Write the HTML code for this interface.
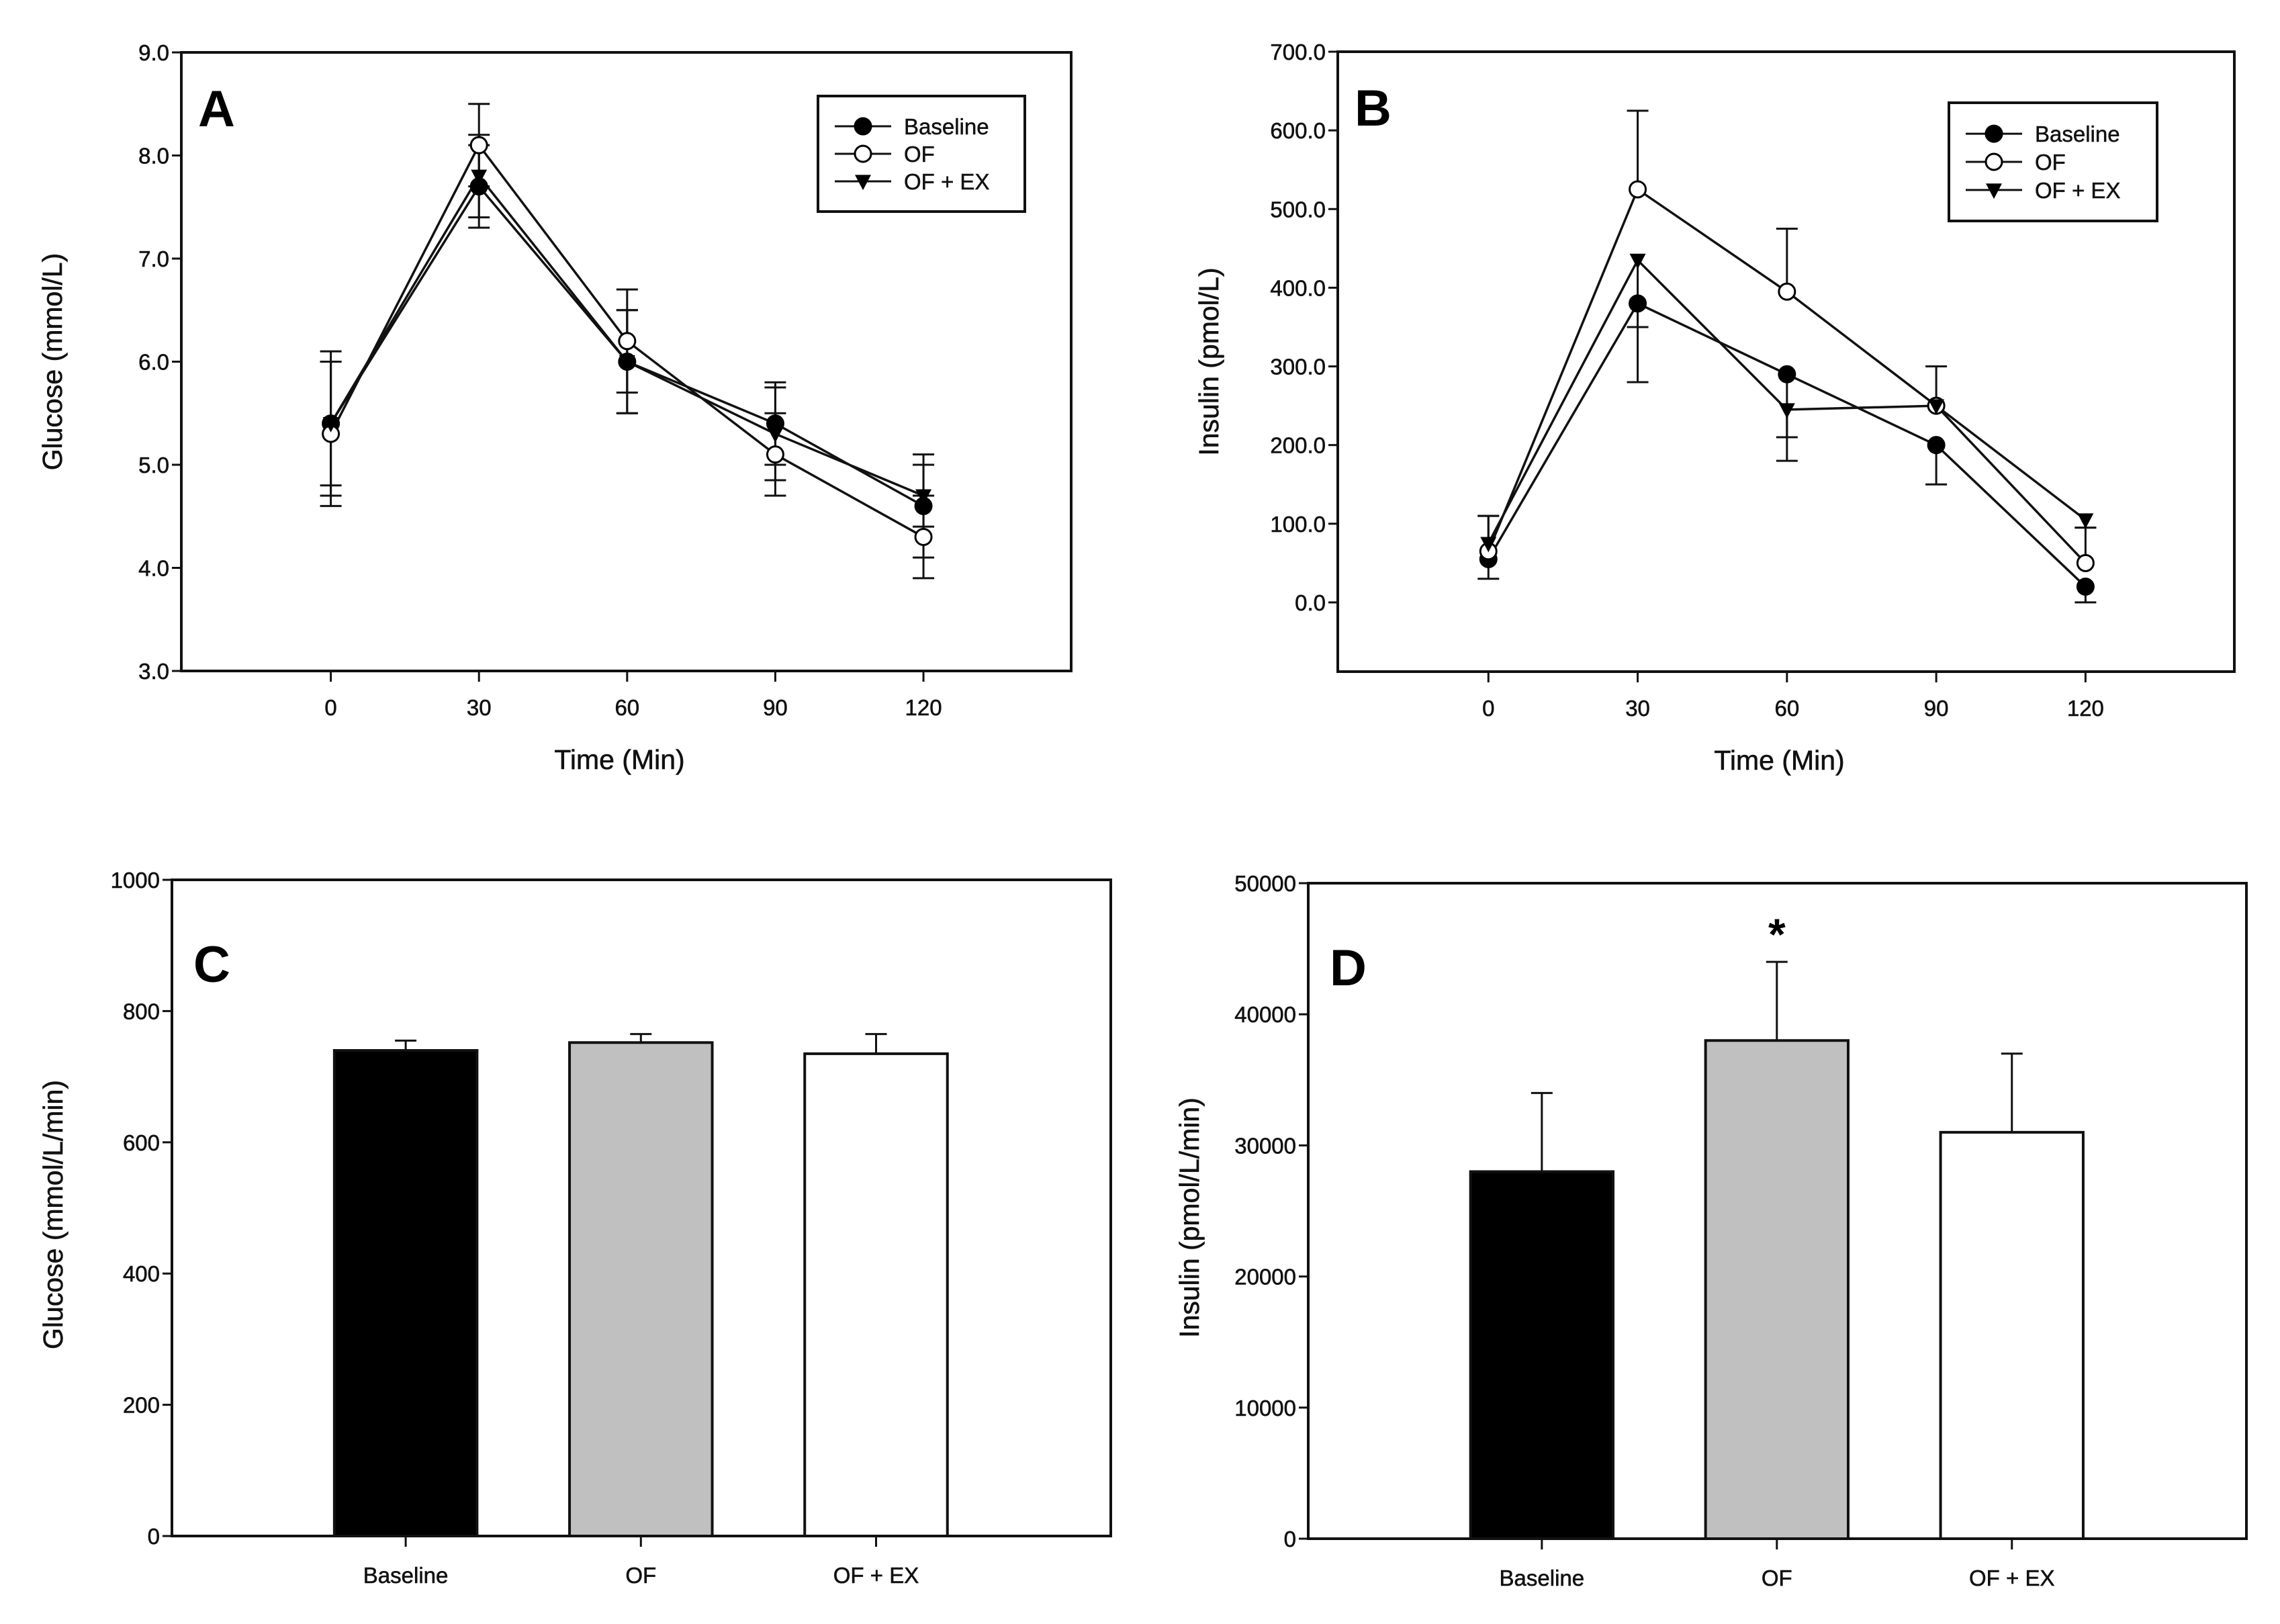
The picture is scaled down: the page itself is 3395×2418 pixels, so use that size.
<!DOCTYPE html>
<html><head><meta charset="utf-8">
<style>
html,body{margin:0;padding:0;background:#fff;}
svg{display:block;font-family:"Liberation Sans",Arial,sans-serif;}
</style></head>
<body>
<svg id="fig" width="3395" height="2418" viewBox="0 0 3395 2418" xmlns="http://www.w3.org/2000/svg"></svg>
<script>
// ---- Panel A data (glucose, mmol/L) ----
const timePoints = [0, 30, 60, 90, 120];
const glucoseBaseline = [5.4, 7.7, 6.0, 5.4, 4.6];
const glucoseBaselineErr = [0.7, 0.4, 0.5, 0.4, 0.5];
const glucoseOF = [5.3, 8.1, 6.2, 5.1, 4.3];
const glucoseOFErr = [0.7, 0.4, 0.5, 0.4, 0.4];
const glucoseOFEX = [5.4, 7.8, 6.0, 5.3, 4.7];
const glucoseOFEXErr = [0.6, 0.4, 0.5, 0.45, 0.3];
const glucoseTicks = [3.0, 4.0, 5.0, 6.0, 7.0, 8.0, 9.0];
// ---- Panel B data (insulin, pmol/L) ----
const insulinBaseline = [55, 380, 290, 200, 20];
const insulinBaselineUp = [0, 0, 0, 0, 0];
const insulinBaselineDown = [25, 100, 80, 50, 20];
const insulinOF = [65, 525, 395, 250, 50];
const insulinOFUp = [45, 100, 80, 50, 45];
const insulinOFDown = [0, 0, 0, 0, 0];
const insulinOFEX = [75, 435, 245, 250, 105];
const insulinOFEXUp = [35, 0, 0, 0, 0];
const insulinOFEXDown = [0, 85, 65, 0, 10];
const insulinTicks = [0, 100, 200, 300, 400, 500, 600, 700];
// ---- Panel C / D data ----
const barCategories = ["Baseline", "OF", "OF + EX"];
const glucoseAUC = [740, 752, 735];
const glucoseAUCErr = [15, 13, 30];
const glucoseAUCTicks = [0, 200, 400, 600, 800, 1000];
const insulinAUC = [28000, 38000, 31000];
const insulinAUCErr = [6000, 6000, 6000];
const insulinAUCTicks = [0, 10000, 20000, 30000, 40000, 50000];

const NS = "http://www.w3.org/2000/svg";
const svg = document.getElementById("fig");
function mk(tag, attrs, parent, text) {
  const e = document.createElementNS(NS, tag);
  for (const k in attrs) e.setAttribute(k, attrs[k]);
  if (text !== undefined) e.textContent = text;
  (parent || svg).appendChild(e);
  return e;
}
function lin(d0, d1, r0, r1) { return v => r0 + (v - d0) * (r1 - r0) / (d1 - d0); }

function frame(g, L, R, T, B) {
  const r = mk("rect", {x: L, y: T, width: R - L, height: B - T, fill: "none", stroke: "#111", "stroke-width": 4}, g);
  
  
}
function yAxis(g, L, ticks, y, fmt) {
  ticks.forEach(t => {
    const ln = mk("line", {x1: L - 14, x2: L, y1: y(t), y2: y(t), stroke: "#111", "stroke-width": 3}, g);
    
    
    const tx = mk("text", {x: L - 18, y: y(t) + 12, "font-size": 33, "text-anchor": "end", fill: "#111", stroke: "#111", "stroke-width": 0.6}, g, fmt(t));
    
    
  });
}
function title(g, x, y, txt, rot, name) {
  const t = mk("text", {x: x, y: y, "font-size": 41, "text-anchor": "middle", fill: "#111", stroke: "#111", "stroke-width": 0.6,
    transform: rot ? `rotate(-90 ${x} ${y})` : ""}, g, txt);
  
  
}
function letter(g, x, y, txt) {
  const t = mk("text", {x: x, y: y, "font-size": 76, "font-weight": "bold", fill: "#000"}, g, txt);
  
  
}
function marker(g, type, cx, cy, r) {
  let m;
  if (type === "tri") {
    m = mk("path", {d: `M${cx - r} ${cy - r * 0.8} L${cx + r} ${cy - r * 0.8} L${cx} ${cy + r * 1.1} Z`, fill: "#000"}, g);
  } else {
    m = mk("circle", {cx: cx, cy: cy, r: r, fill: type === "open" ? "#fff" : "#000", stroke: "#000", "stroke-width": 3}, g);
  }
  
  
}
function errBar(g, x, y1, y2, capY) {
  const l = mk("line", {x1: x, x2: x, y1: y1, y2: y2, stroke: "#111", "stroke-width": 3}, g);
  
  
  capY.forEach(cy => {
    const c = mk("line", {x1: x - 16, x2: x + 16, y1: cy, y2: cy, stroke: "#111", "stroke-width": 3}, g);
    
    
  });
}
function legend(g, x0, y0, x1, y1, rows) {
  const b = mk("rect", {x: x0, y: y0, width: x1 - x0, height: y1 - y0, fill: "#fff", stroke: "#111", "stroke-width": 4}, g);
  
  
  const step = (y1 - y0) / 4.2;
  rows.forEach((r, i) => {
    const yy = y0 + step * (1.1 + i);
    const eg = mk("g", {}, g);
    
    
    mk("line", {x1: x0 + 25, x2: x0 + 109, y1: yy, y2: yy, stroke: "#111", "stroke-width": 3}, eg);
    marker(eg, r[0], x0 + 67, yy, 12);
    mk("text", {x: x0 + 128, y: yy + 12, "font-size": 33, fill: "#111", stroke: "#111", "stroke-width": 0.5}, eg, r[1]);
  });
}

function linePanel(name, L, R, T, B, ymin, ymax, ticks, fmt, series, ytitle, ltr, lg) {
  const g = mk("g", {});
  
  
  const x0 = L + (R - L) * 0.168, x120 = L + (R - L) * 0.834;
  const x = lin(0, 120, x0, x120);
  const y = lin(ymin, ymax, B, T);
  frame(g, L, R, T, B);
  yAxis(g, L, ticks, y, fmt);
  timePoints.forEach(t => {
    const ln = mk("line", {x1: x(t), x2: x(t), y1: B, y2: B + 16, stroke: "#111", "stroke-width": 3}, g);
    
    
    const tx = mk("text", {x: x(t), y: B + 66, "font-size": 33, "text-anchor": "middle", fill: "#111", stroke: "#111", "stroke-width": 0.6}, g, String(t));
    
    
  });
  series.forEach(s => {
    s.vals.forEach((v, i) => {
      const up = s.up[i], dn = s.dn[i];
      const caps = [];
      if (up > 0) caps.push(y(v + up));
      if (dn > 0) caps.push(y(v - dn));
      if (caps.length) errBar(g, x(timePoints[i]), y(v + up), y(v - dn), caps);
    });
  });
  series.forEach(s => {
    const pts = s.vals.map((v, i) => x(timePoints[i]) + "," + y(v)).join(" ");
    const pl = mk("polyline", {points: pts, fill: "none", stroke: "#111", "stroke-width": 3.5}, g);
    
    
  });
  series.forEach(s => s.vals.forEach((v, i) => marker(g, s.m, x(timePoints[i]), y(v), 12)));
  title(g, (L + R) / 2 - 10, B + 146, "Time (Min)", false, "x-axis-title");
  title(g, L - 178, (T + B) / 2, ytitle, true, "y-axis-title");
  letter(g, L + 25, T + 110, ltr);
  legend(g, lg[0], lg[1], lg[2], lg[3], [["filled", "Baseline"], ["open", "OF"], ["tri", "OF + EX"]]);
}

linePanel("panel-a-glucose", 270, 1595, 78, 999, 3, 9, glucoseTicks, v => v.toFixed(1), [
  {key: "baseline", m: "filled", vals: glucoseBaseline, up: glucoseBaselineErr, dn: glucoseBaselineErr},
  {key: "of", m: "open", vals: glucoseOF, up: glucoseOFErr, dn: glucoseOFErr},
  {key: "ofex", m: "tri", vals: glucoseOFEX, up: glucoseOFEXErr, dn: glucoseOFEXErr}
], "Glucose (mmol/L)", "A", [1218, 143, 1526, 315]);

linePanel("panel-b-insulin", 1992, 3327, 77, 1000, -88, 700, insulinTicks, v => v.toFixed(1), [
  {key: "baseline", m: "filled", vals: insulinBaseline, up: insulinBaselineUp, dn: insulinBaselineDown},
  {key: "of", m: "open", vals: insulinOF, up: insulinOFUp, dn: insulinOFDown},
  {key: "ofex", m: "tri", vals: insulinOFEX, up: insulinOFEXUp, dn: insulinOFEXDown}
], "Insulin (pmol/L)", "B", [2902, 153, 3212, 329]);

function barPanel(name, L, R, T, B, ymax, ticks, vals, errs, ytitle, ltr, star) {
  const g = mk("g", {});
  
  
  const y = lin(0, ymax, B, T);
  const W = R - L;
  const cx = i => L + W * (0.249 + 0.2505 * i);
  const bw = W * 0.152;
  const fills = ["#000", "#c0c0c0", "#fff"];
  frame(g, L, R, T, B);
  yAxis(g, L, ticks, y, v => String(v));
  vals.forEach((v, i) => {
    errBar(g, cx(i), y(v + errs[i]), y(v), [y(v + errs[i])]);
    const r = mk("rect", {x: cx(i) - bw / 2, y: y(v), width: bw, height: B - y(v), fill: fills[i], stroke: "#111", "stroke-width": 4}, g);
    
    
    const tk = mk("line", {x1: cx(i), x2: cx(i), y1: B, y2: B + 16, stroke: "#111", "stroke-width": 3}, g);
    
    
    const tx = mk("text", {x: cx(i), y: B + 70, "font-size": 33, "text-anchor": "middle", fill: "#111", stroke: "#111", "stroke-width": 0.6}, g, barCategories[i]);
    
    
  });
  title(g, L - 163, (T + B) / 2 + 10, ytitle, true, "y-axis-title");
  letter(g, L + 32, T + 152, ltr);
  if (star !== undefined) {
    const s = mk("text", {x: cx(star), y: y(vals[star] + errs[star]) - 18, "font-size": 66, "font-weight": "bold", "text-anchor": "middle", fill: "#000"}, g, "*");
    
    
  }
}
barPanel("panel-c-glucose-auc", 256, 1654, 1310, 2287, 1000, glucoseAUCTicks, glucoseAUC, glucoseAUCErr, "Glucose (mmol/L/min)", "C");
barPanel("panel-d-insulin-auc", 1948, 3345, 1315, 2291, 50000, insulinAUCTicks, insulinAUC, insulinAUCErr, "Insulin (pmol/L/min)", "D", 1);
</script>
</body></html>
